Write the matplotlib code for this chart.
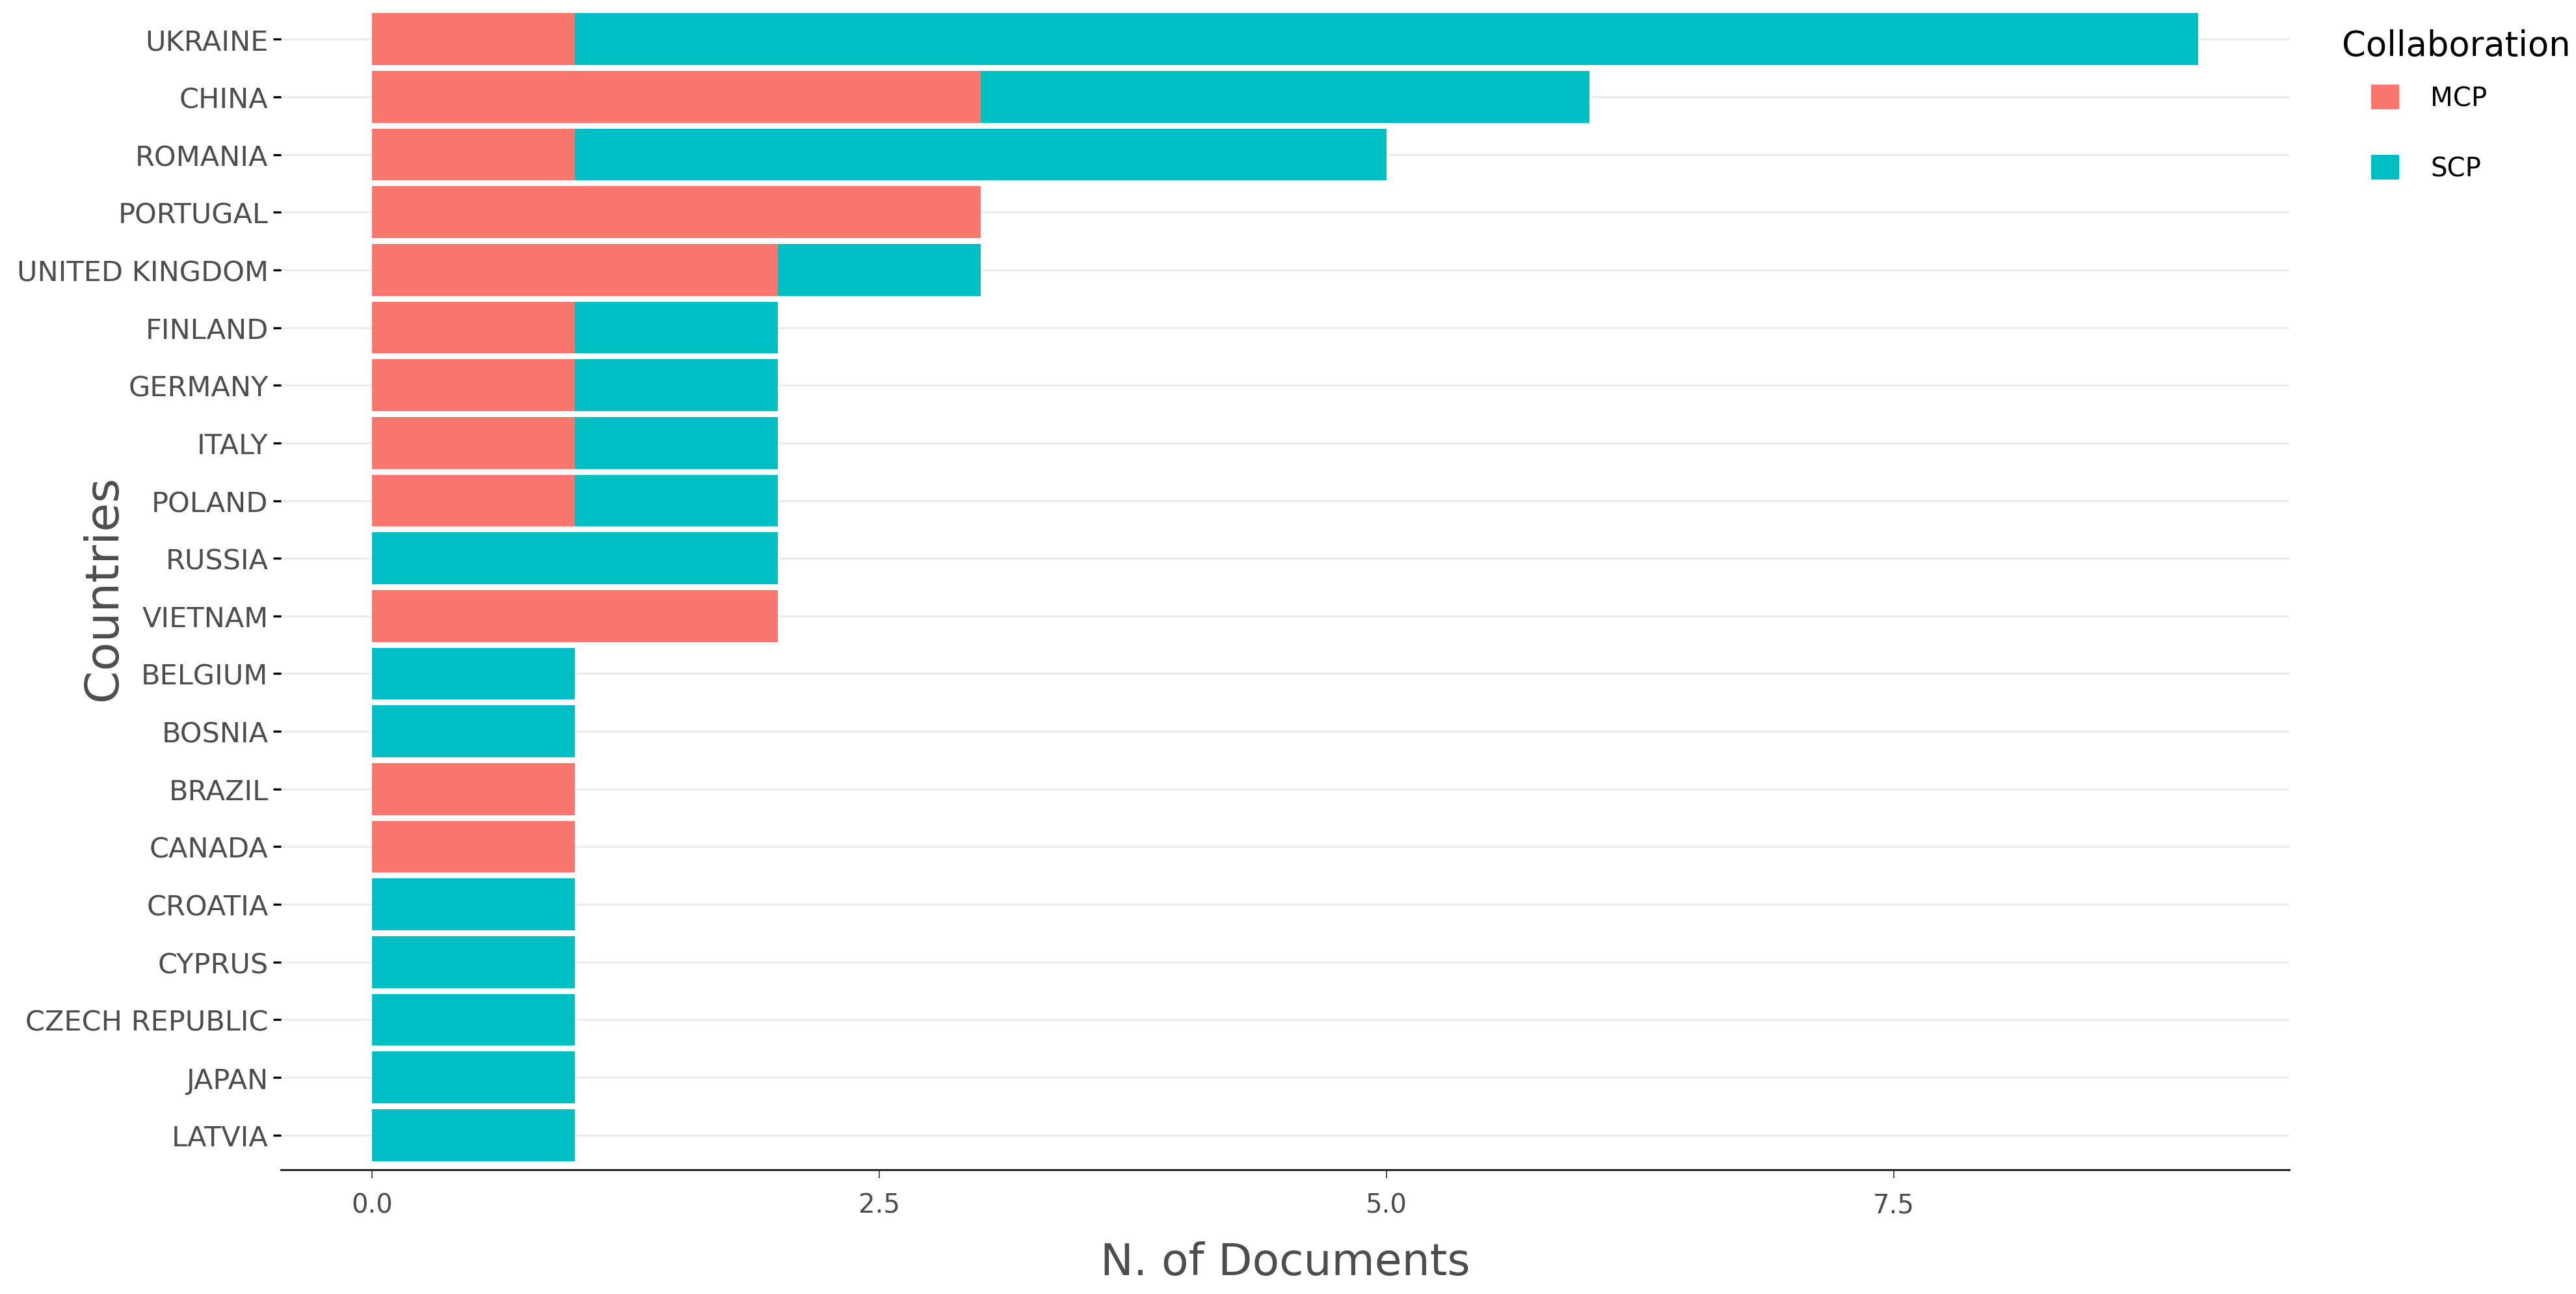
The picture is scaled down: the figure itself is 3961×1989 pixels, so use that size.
import matplotlib
matplotlib.use("Agg")
import matplotlib.pyplot as plt
from matplotlib.patches import Patch
import numpy as np

# Data (top to bottom)
countries = ["UKRAINE", "CHINA", "ROMANIA", "PORTUGAL", "UNITED KINGDOM",
             "FINLAND", "GERMANY", "ITALY", "POLAND", "RUSSIA", "VIETNAM",
             "BELGIUM", "BOSNIA", "BRAZIL", "CANADA", "CROATIA", "CYPRUS",
             "CZECH REPUBLIC", "JAPAN", "LATVIA"]
mcp = [1, 3, 1, 3, 2, 1, 1, 1, 1, 0, 2, 0, 0, 1, 1, 0, 0, 0, 0, 0]
scp = [8, 3, 4, 0, 1, 1, 1, 1, 1, 2, 0, 1, 1, 0, 0, 1, 1, 1, 1, 1]
x_ticks = [0.0, 2.5, 5.0, 7.5]

MCP_COLOR = "#F8766D"
SCP_COLOR = "#00BFC4"

plt.rcParams["font.family"] = ["DejaVu Sans"]

W, H = 3962, 1990
fig = plt.figure(figsize=(W / 100, H / 100), dpi=100)
ax = fig.add_axes([432 / W, 1 - 1799 / H, (3520 - 432) / W, (1799 - 8) / H])

y = np.arange(len(countries))
mcp = np.array(mcp)
scp = np.array(scp)

# light horizontal grid at each category
for yy in y:
    ax.axhline(yy, color="#ebebeb", lw=2.2, zorder=0)

ax.barh(y, mcp, height=0.9, color=MCP_COLOR, zorder=2)
ax.barh(y, scp, left=mcp, height=0.9, color=SCP_COLOR, zorder=2)

ax.set_xlim(-0.45, 9.45)
ax.set_ylim(len(countries) - 0.4, -0.6)

ax.set_yticks(y)
ax.set_yticklabels(countries, fontsize=31, color="#4d4d4d")
ax.set_xticks(x_ticks)
ax.set_xticklabels([f"{t:.1f}" for t in x_ticks], fontsize=29, color="#4d4d4d")

ax.tick_params(axis="y", length=9, width=2.4, color="black", pad=5)
ax.tick_params(axis="x", length=9, width=1.2, color="#333333", pad=16)

for side in ["top", "right", "left"]:
    ax.spines[side].set_visible(False)
ax.spines["bottom"].set_linewidth(2.2)
ax.spines["bottom"].set_color("#222222")

ax.set_xlabel("N. of Documents", fontsize=49, color="#4d4d4d")
ax.xaxis.set_label_coords(0.5, -(1941 - 1799) / (1799 - 8))
ax.xaxis.label.set_va("center")
ax.set_ylabel("Countries", fontsize=52, color="#4d4d4d")
ax.yaxis.set_label_coords(-(432 - 159) / (3520 - 432), 0.5)
ax.yaxis.label.set_va("center")

# legend: title flush left, keys indented
fig.text(3601 / W, 1 - 71 / H, "Collaboration", fontsize=38, color="black",
         ha="left", va="center")
handles = [Patch(facecolor=MCP_COLOR, label="MCP"),
           Patch(facecolor=SCP_COLOR, label="SCP")]
fig.legend(handles=handles, loc="upper left",
           bbox_to_anchor=(3646 / W, 1 - 131 / H), frameon=False,
           fontsize=29, handlelength=1.07, handleheight=1.07,
           labelspacing=1.65, handletextpad=1.2, borderpad=0,
           borderaxespad=0)

fig.savefig("out.png", dpi=100)
